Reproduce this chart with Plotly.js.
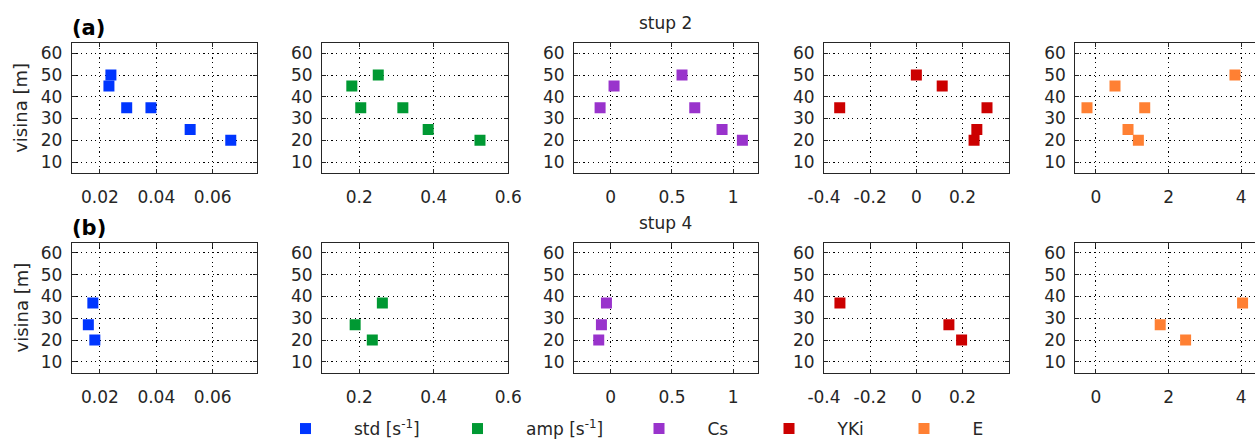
<!DOCTYPE html>
<html>
<head>
<meta charset="utf-8">
<script src="https://cdn.plot.ly/plotly-3.0.1.min.js"></script>
<style>
html, body { margin: 0; padding: 0; overflow: hidden; background: #fff; }
#chart { width: 1262px; height: 460px; }
</style>
</head>
<body>
<div id="chart"></div>
<script>
// ---- data ----
const heightsA = [50, 45, 35, 35, 25, 20];   // stup 2 heights [m]
const heightsB = [37, 27, 20];               // stup 4 heights [m]

const stdA = [0.0239, 0.0232, 0.0295, 0.0381, 0.052, 0.0664];
const ampA = [0.251, 0.180, 0.204, 0.317, 0.385, 0.524];
const csA  = [0.582, 0.027, -0.087, 0.686, 0.909, 1.075];
const ykiA = [0.0, 0.112, -0.332, 0.306, 0.262, 0.250];
const eA   = [3.83, 0.524, -0.248, 1.343, 0.883, 1.168];

const stdB = [0.0175, 0.0159, 0.0182];
const ampB = [0.262, 0.189, 0.235];
const csB  = [-0.035, -0.076, -0.098];
const ykiB = [-0.331, 0.141, 0.196];
const eB   = [4.04, 1.77, 2.47];

const seriesNames = ['std [s<sup>-1</sup>]', 'amp [s<sup>-1</sup>]', 'Cs', 'YKi', 'E'];
const seriesColors = ['#0036ff', '#009933', '#9933cc', '#cc0000', '#ff8033'];

const xTickVals = [[0.02, 0.04, 0.06], [0.2, 0.4, 0.6], [0, 0.5, 1], [-0.4, -0.2, 0, 0.2], [0, 2, 4]];
const xTickText = [['0.02', '0.04', '0.06'], ['0.2', '0.4', '0.6'], ['0', '0.5', '1'], ['-0.4', '-0.2', '0', '0.2'], ['0', '2', '4']];
const xRanges = [[0.01, 0.0757], [0.1, 0.6], [-0.3, 1.2], [-0.4, 0.4], [-0.57, 4.52]];
const yTickVals = [10, 20, 30, 40, 50, 60];
const yTickText = ['10', '20', '30', '40', '50', '60'];
const yRange = [4.8, 64.6];
const rowTitles = ['stup 2', 'stup 4'];
const rowLabels = ['(a)', '(b)'];
const yTitle = 'visina [m]';

// ---- layout geometry (pixels); figure is slightly larger than the 1255x441 view, as the reference is cropped ----
const W = 1262, H = 460;
const colPx = [[71.7, 257], [322, 508.3], [574, 757.7], [824, 1008.7], [1075.3, 1260]];
const rowPx = [[43.3, 173.3], [242.7, 373.3]];
const legendSymbolPx = [305.5, 477.5, 659, 789, 924];
const legendCenterY = 429;
const ITEMW = 87;

const FONT = 'DejaVu Sans';
const TXT = '#262626';

const rowsX = [[stdA, ampA, csA, ykiA, eA], [stdB, ampB, csB, ykiB, eB]];
const rowsY = [heightsA, heightsB];

const data = [];
const layout = {
  width: W, height: H,
  margin: {l: 0, r: 0, t: 0, b: 0},
  paper_bgcolor: '#fff', plot_bgcolor: '#fff',
  font: {family: FONT, size: 17, color: TXT},
  annotations: [],
  showlegend: true
};

for (let r = 0; r < 2; r++) {
  for (let c = 0; c < 5; c++) {
    const idx = r * 5 + c + 1;
    const xa = 'xaxis' + (idx === 1 ? '' : idx);
    const ya = 'yaxis' + (idx === 1 ? '' : idx);
    const legendId = c === 0 ? 'legend' : 'legend' + (c + 1);
    data.push({
      type: 'scatter', mode: 'markers',
      x: rowsX[r][c], y: rowsY[r],
      xaxis: 'x' + (idx === 1 ? '' : idx), yaxis: 'y' + (idx === 1 ? '' : idx),
      name: seriesNames[c],
      legend: legendId,
      showlegend: r === 0,
      marker: {symbol: 'square', size: 11, color: seriesColors[c], line: {width: 0}},
      hoverinfo: 'x+y'
    });
    const common = {
      showline: true, linecolor: TXT, linewidth: 1, mirror: 'ticks',
      ticks: 'inside', ticklen: 4, tickcolor: TXT, tickwidth: 1,
      showgrid: true, gridcolor: '#000', gridwidth: 1, griddash: '1.2px,3.5px',
      zeroline: false, tickfont: {family: FONT, size: 17, color: TXT}
    };
    layout[xa] = Object.assign({}, common, {
      domain: [colPx[c][0] / W, colPx[c][1] / W],
      range: xRanges[c], tickmode: 'array', tickvals: xTickVals[c], ticktext: xTickText[c],
      anchor: 'y' + (idx === 1 ? '' : idx), ticklabelstandoff: 8
    });
    layout[ya] = Object.assign({}, common, {
      domain: [1 - rowPx[r][1] / H, 1 - rowPx[r][0] / H],
      range: yRange, tickmode: 'array', tickvals: yTickVals, ticktext: yTickText,
      anchor: 'x' + (idx === 1 ? '' : idx), ticklabelstandoff: 5
    });
  }
  // row label, title, y-axis title
  layout.annotations.push({
    xref: 'paper', yref: 'paper', x: (colPx[0][0] - 2) / W, y: 1 - (rowPx[r][0] - 15) / H,
    xanchor: 'left', yanchor: 'middle', showarrow: false,
    text: '<b>' + rowLabels[r] + '</b>', font: {family: FONT, size: 21, color: '#000'}
  });
  layout.annotations.push({
    xref: 'paper', yref: 'paper', x: (colPx[2][0] + colPx[2][1]) / 2 / W, y: 1 - (rowPx[r][0] - 20) / H,
    xanchor: 'center', yanchor: 'middle', showarrow: false,
    text: rowTitles[r], font: {family: FONT, size: 17, color: TXT}
  });
  layout.annotations.push({
    xref: 'paper', yref: 'paper', x: 20.5 / W, y: 1 - (rowPx[r][0] + rowPx[r][1]) / 2 / H,
    xanchor: 'center', yanchor: 'middle', showarrow: false, textangle: -90,
    text: yTitle, font: {family: FONT, size: 18, color: TXT}
  });
}

for (let c = 0; c < 5; c++) {
  const key = c === 0 ? 'legend' : 'legend' + (c + 1);
  layout[key] = {
    x: (legendSymbolPx[c] - (ITEMW + 10) / 2) / W, xanchor: 'left',
    y: 1 - legendCenterY / H, yanchor: 'middle',
    orientation: 'h', bgcolor: 'rgba(0,0,0,0)', borderwidth: 0,
    itemwidth: ITEMW,
    font: {family: FONT, size: 17, color: TXT}
  };
}

Plotly.newPlot('chart', data, layout, {displayModeBar: false, staticPlot: true});
</script>
</body>
</html>
